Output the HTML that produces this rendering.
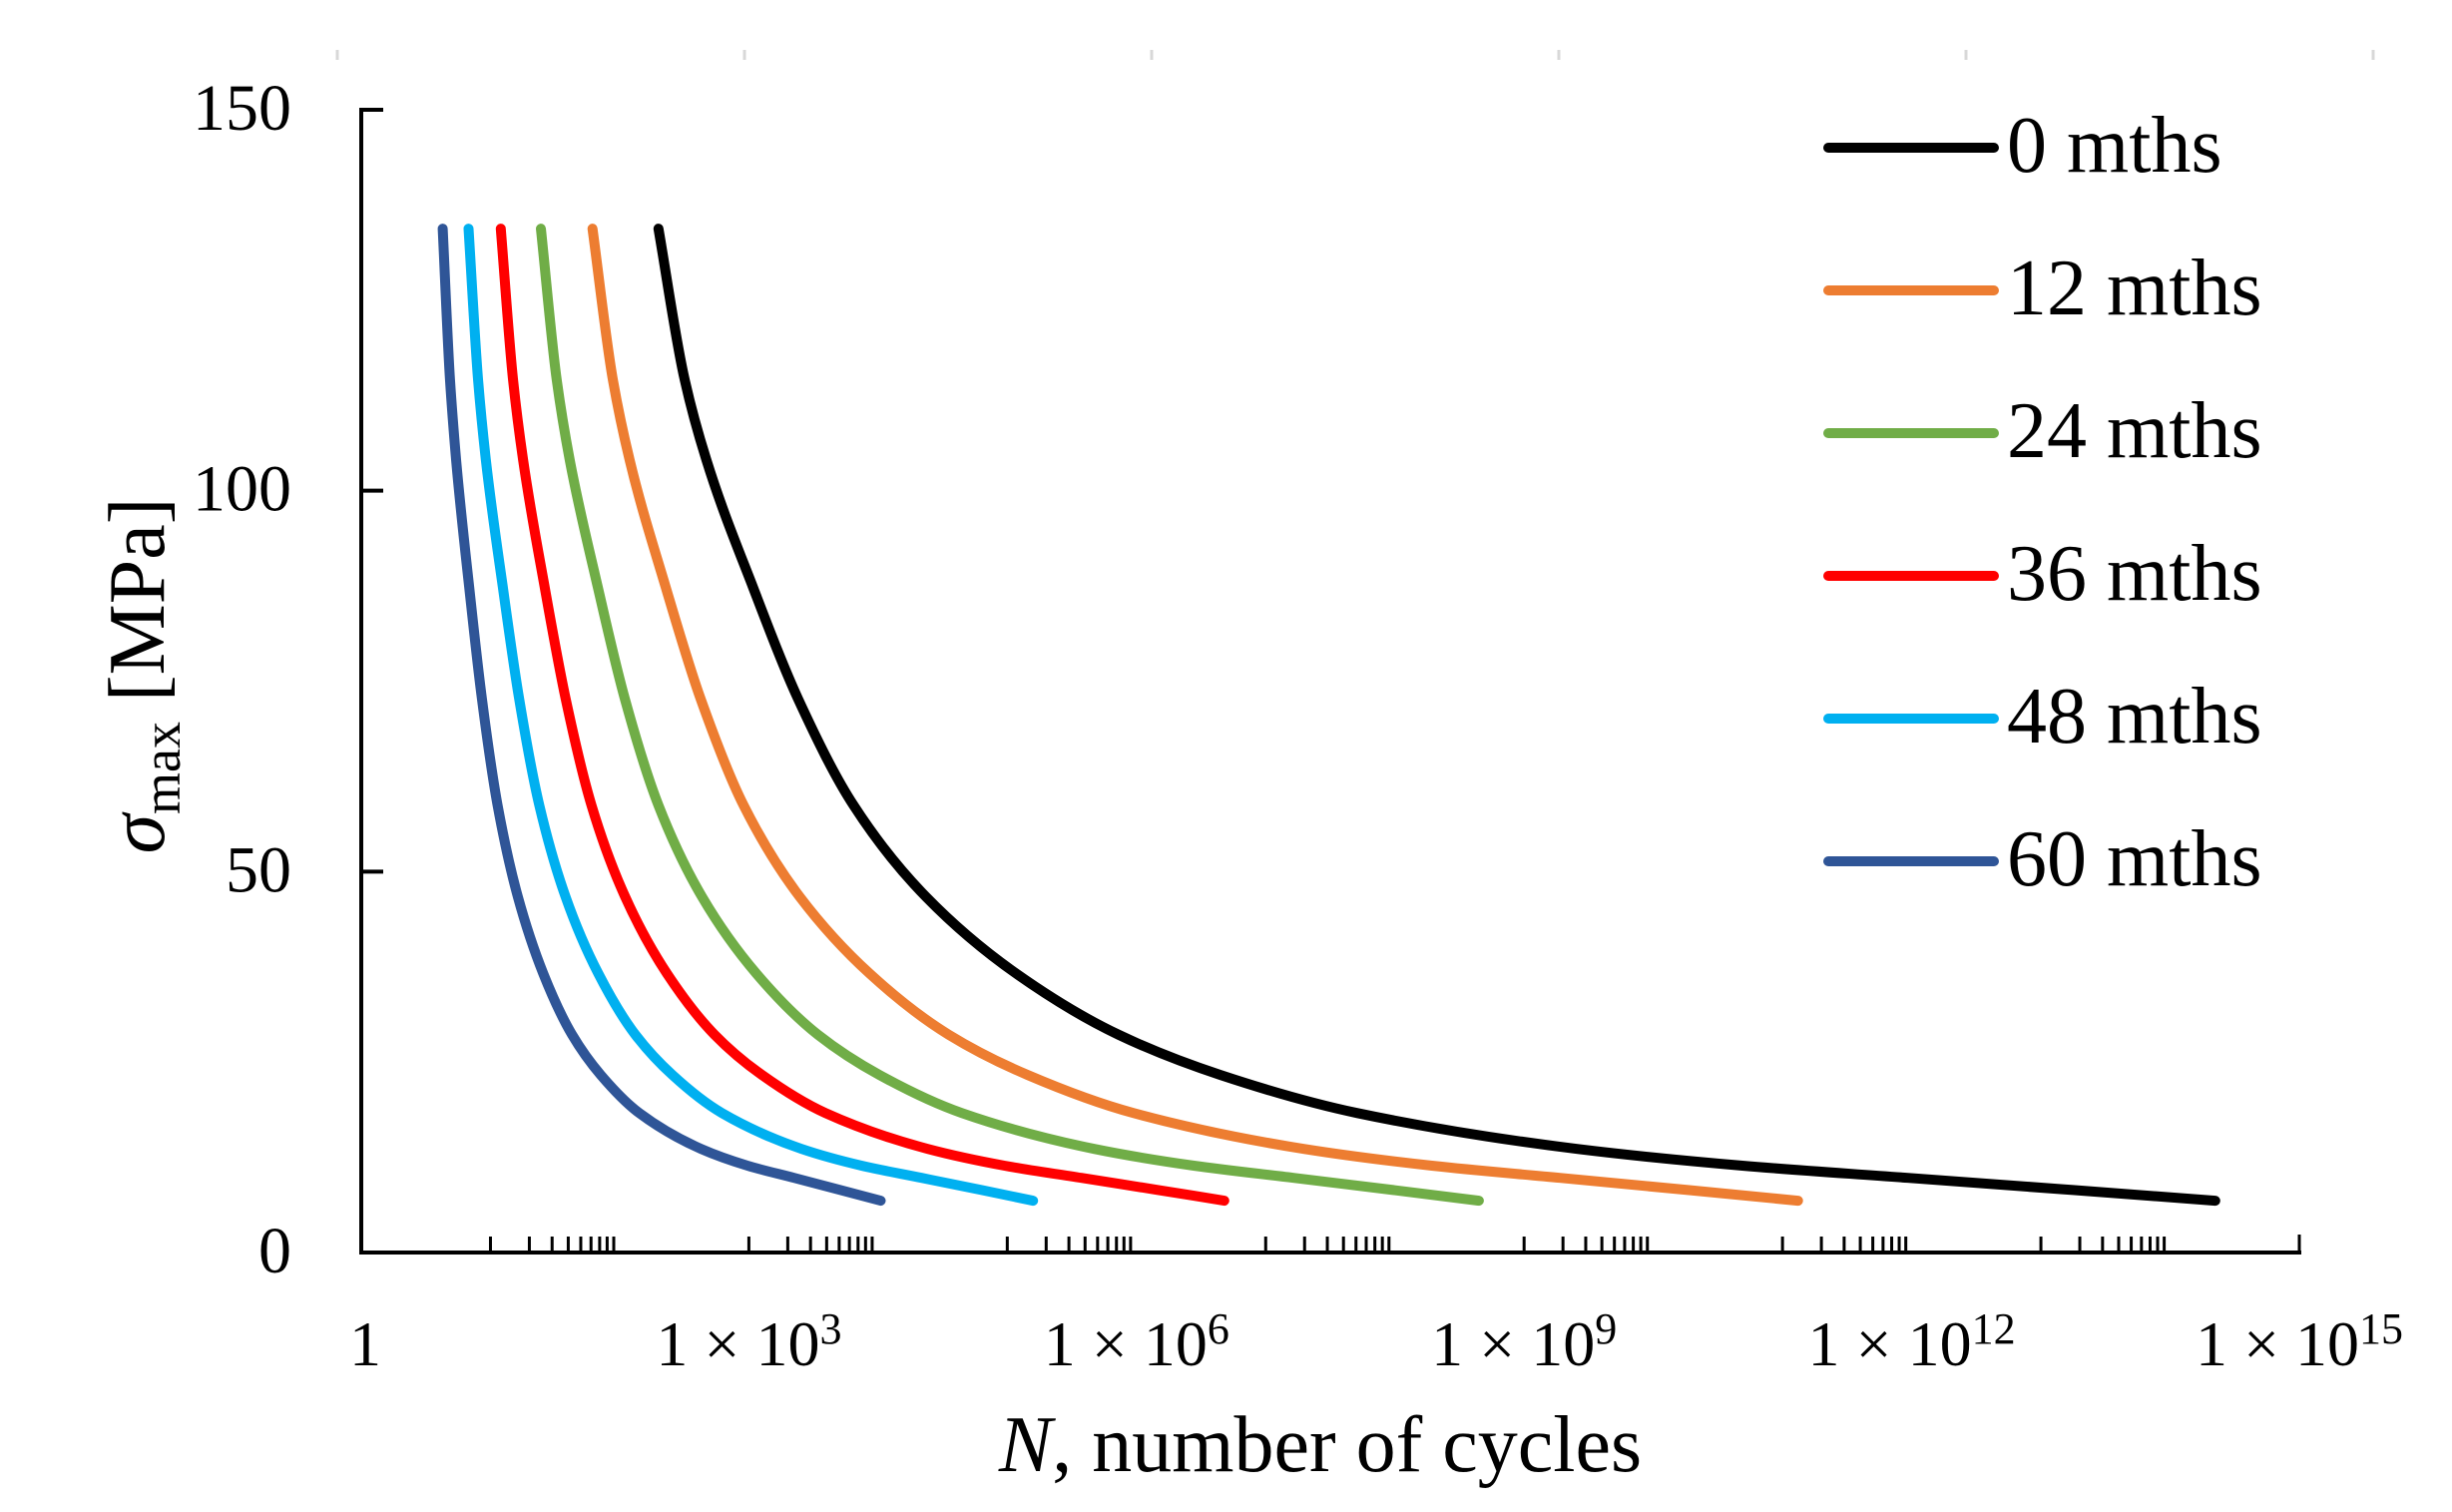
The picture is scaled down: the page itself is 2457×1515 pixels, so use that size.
<!DOCTYPE html>
<html><head><meta charset="utf-8"><style>
html,body{margin:0;padding:0;background:#fff;}
svg{display:block;font-family:"Liberation Serif",serif;}
</style></head><body>
<svg id="chart" width="2457" height="1515" viewBox="0 0 2457 1515" xmlns="http://www.w3.org/2000/svg">
<g id="topticks"></g>
<g id="series"></g>
<g id="axes"></g>
<g id="legend"></g>
<text x="1323" y="1474" font-size="80" text-anchor="middle"><tspan font-style="italic">N</tspan>, number of cycles</text>
<text transform="translate(164,677) rotate(-90)" font-size="80" text-anchor="middle"><tspan font-style="italic">σ</tspan><tspan font-size="54" dy="16">max</tspan><tspan dy="-16"> [MPa]</tspan></text>
</svg>
<script>
const seriesNames = ["0 mths","12 mths","24 mths","36 mths","48 mths","60 mths"];
const seriesColors = ["#000000","#ED7D31","#70AD47","#FF0000","#00B0F0","#2F5597"];
// log10(N) and sigma_max values per series
const logN0 = [2.30,2.50,2.67,3.03,3.38,3.81,4.37,5.07,5.86,6.65,7.71,9.41,10.69,11.97,13.25,14.35];
const sig0  = [134.4,114.8,104.1,87.4,72.7,58.7,46.7,36.6,28.6,23.3,18.3,13.6,11.4,9.8,8.2,6.8];
const logN12 = [1.79,1.945,2.076,2.355,2.626,2.959,3.393,3.935,4.546,5.158,5.979,7.295,8.287,9.277,10.268,11.12];
const sig12  = [134.4,114.8,104.1,87.4,72.7,58.7,46.7,36.6,28.6,23.3,18.3,13.6,11.4,9.8,8.2,6.8];
const logN24 = [1.39,1.511,1.613,1.830,2.040,2.300,2.637,3.059,3.534,4.011,4.650,5.673,6.445,7.216,7.987,8.65];
const sig24  = [134.4,114.8,104.1,87.4,72.7,58.7,46.7,36.6,28.6,23.3,18.3,13.6,11.4,9.8,8.2,6.8];
const logN36 = [1.08,1.173,1.252,1.419,1.582,1.782,2.042,2.367,2.734,3.102,3.594,4.384,4.979,5.574,6.169,6.68];
const sig36  = [134.4,114.8,104.1,87.4,72.7,58.7,46.7,36.6,28.6,23.3,18.3,13.6,11.4,9.8,8.2,6.8];
const logN48 = [0.83,0.903,0.964,1.095,1.222,1.378,1.581,1.835,2.121,2.408,2.792,3.408,3.873,4.337,4.801,5.20];
const sig48  = [134.4,114.8,104.1,87.4,72.7,58.7,46.7,36.6,28.6,23.3,18.3,13.6,11.4,9.8,8.2,6.8];
const logN60 = [0.63,0.686,0.734,0.835,0.934,1.055,1.212,1.409,1.631,1.854,2.152,2.630,2.990,3.350,3.710,4.02];
const sig60  = [134.4,114.8,104.1,87.4,72.7,58.7,46.7,36.6,28.6,23.3,18.3,13.6,11.4,9.8,8.2,6.8];
const seriesX = [logN0,logN12,logN24,logN36,logN48,logN60];
const seriesY = [sig0,sig12,sig24,sig36,sig48,sig60];
const yTicks = [0,50,100,150];
const xLabelExp = [0,3,6,9,12,15];
const xTickGroupExp = [1,3,5,7,9,11,13];

const X0=362, X1=2304, Y0=1255, Y1=110, XMAX=15, YMAX=150;
const sx = v => X0 + (X1-X0)*v/XMAX;
const sy = v => Y0 - (Y0-Y1)*v/YMAX;
const NS="http://www.w3.org/2000/svg";
function mk(tag, attrs, parent){const e=document.createElementNS(NS,tag);for(const k in attrs)e.setAttribute(k,attrs[k]);parent.appendChild(e);return e;}

const tt=document.getElementById('topticks');
[338,746,1154,1562,1970,2378].forEach(x=>{
  const l=mk('line',{x1:x,y1:50,x2:x,y2:60,stroke:'#d8d8d8','stroke-width':3},tt);
  
  
});

function monotonePath(xs, ys){
  const n=xs.length, d=[], m=new Array(n);
  for(let i=0;i<n-1;i++) d.push((ys[i+1]-ys[i])/(xs[i+1]-xs[i]));
  m[0]=d[0]; m[n-1]=d[n-2];
  for(let i=1;i<n-1;i++){
    if(d[i-1]*d[i]<=0) m[i]=0;
    else { const h0=xs[i]-xs[i-1], h1=xs[i+1]-xs[i];
      const w1=2*h1+h0, w2=h1+2*h0;
      m[i]=(w1+w2)/(w1/d[i-1]+w2/d[i]); }
  }
  let path=`M${sx(xs[0]).toFixed(1)},${sy(ys[0]).toFixed(1)}`;
  for(let i=0;i<n-1;i++){
    const h=xs[i+1]-xs[i];
    const c1x=xs[i]+h/3, c1y=ys[i]+m[i]*h/3;
    const c2x=xs[i+1]-h/3, c2y=ys[i+1]-m[i+1]*h/3;
    path+=` C${sx(c1x).toFixed(1)},${sy(c1y).toFixed(1)} ${sx(c2x).toFixed(1)},${sy(c2y).toFixed(1)} ${sx(xs[i+1]).toFixed(1)},${sy(ys[i+1]).toFixed(1)}`;
  }
  return path;
}
const sg=document.getElementById('series');
seriesX.forEach((xs,i)=>{
  const p=mk('path',{d:monotonePath(xs,seriesY[i]),fill:'none',stroke:seriesColors[i],'stroke-width':10,'stroke-linecap':'round','stroke-linejoin':'round'},sg);
  
  
});

const ax=document.getElementById('axes');
const ya=mk('line',{x1:X0,y1:Y1-2,x2:X0,y2:Y0+2,stroke:'#000','stroke-width':4},ax);


const xa=mk('line',{x1:X0-2,y1:Y0,x2:X1+2,y2:Y0,stroke:'#000','stroke-width':4},ax);


yTicks.forEach(v=>{
  if(v>0){
    const t=mk('line',{x1:X0,y1:sy(v),x2:X0+22,y2:sy(v),stroke:'#000','stroke-width':4},ax);
    
    
  }
  const lb=mk('text',{x:292,y:sy(v)+20,'font-size':66,'text-anchor':'end'},ax);
  lb.textContent=String(v);
  
  
});
xTickGroupExp.forEach(e=>{
  for(let k=1;k<=9;k++){
    const x=sx(e+Math.log10(k));
    const t=mk('line',{x1:x,y1:Y0,x2:x,y2:Y0-16,stroke:'#000','stroke-width':3},ax);
    
    
  }
});
const et=mk('line',{x1:X1,y1:Y0,x2:X1,y2:Y0-18,stroke:'#000','stroke-width':3},ax);


xLabelExp.forEach(e=>{
  const lb=mk('text',{x:sx(e)+(e===0?4:0),y:1368,'font-size':64,'text-anchor':'middle'},ax);
  if(e===0){lb.textContent='1';}
  else{
    const a=document.createElementNS(NS,'tspan');a.textContent='1 × 10';lb.appendChild(a);
    const b=document.createElementNS(NS,'tspan');b.setAttribute('font-size','44');b.setAttribute('dy','-22');b.textContent=String(e);lb.appendChild(b);
  }
  
  
});

const lg=document.getElementById('legend');
seriesNames.forEach((n,i)=>{
  const y=148+i*143;
  const g=mk('g',{},lg);
  
  
  const l=mk('line',{x1:1832,y1:y,x2:1998,y2:y,stroke:seriesColors[i],'stroke-width':10,'stroke-linecap':'round'},g);
  
  
  const t=mk('text',{x:2011,y:y+24,'font-size':80},g);
  t.textContent=n;
  
  
});
</script>
</body></html>
